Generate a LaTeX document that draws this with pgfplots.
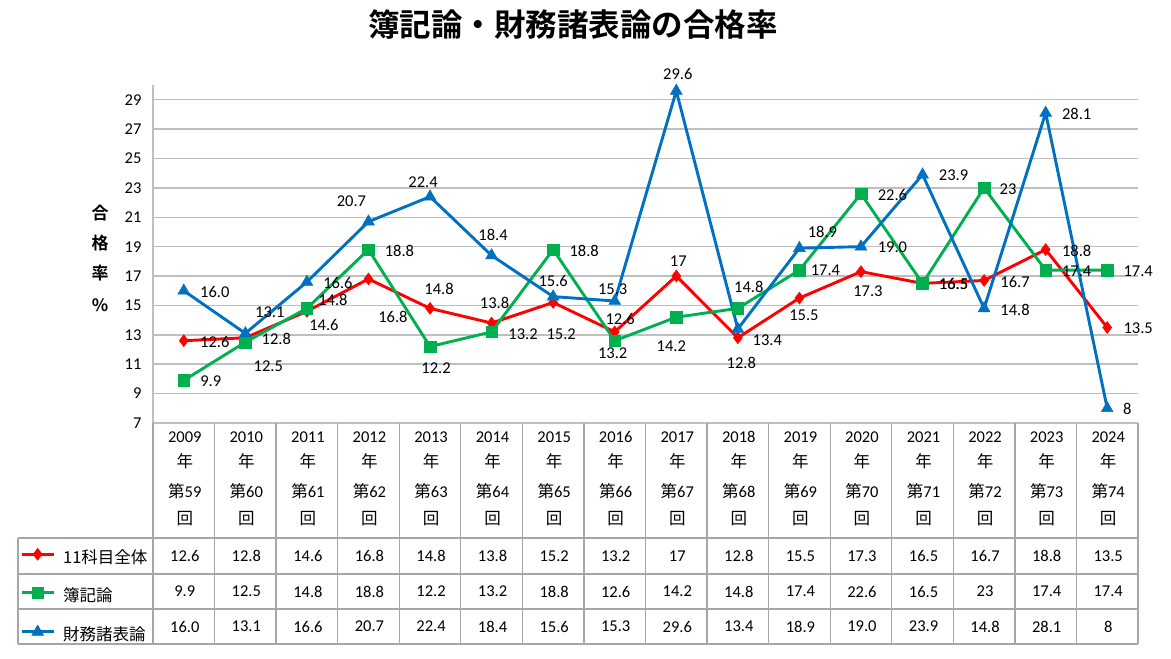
\documentclass[border=0pt]{standalone}
\usepackage{pgfplots}
\pgfplotsset{compat=1.18}
\usepackage{pgfplotstable}
\usepackage{fontspec}
\setmainfont{Carlito}
\newfontfamily\jp{Noto Sans CJK JP}
\newfontfamily\jpb{Noto Sans CJK JP Bold}
\definecolor{cred}{HTML}{FF0000}
\definecolor{cgreen}{HTML}{00B050}
\definecolor{cblue}{HTML}{0070C0}
\definecolor{gridgray}{HTML}{BFBFBF}
\definecolor{tabgray}{HTML}{A6A6A6}

% 11科目全体
\pgfplotstableread{
x y dx dy
0 12.6 31 -1.5
1 12.8 31 -1
2 14.6 17 -13.5
3 16.8 24.5 -37.5
4 14.8 9 19
5 13.8 3 20.5
6 15.2 8 -31.5
7 13.2 -2 -21
8 17 2 14.5
9 12.8 3.5 -25.5
10 15.5 4.5 -17
11 17.3 7 -20
12 16.5 31 -1
13 16.7 31 -1.5
14 18.8 31 -1
15 13.5 31 -1
}\tabA
% 簿記論
\pgfplotstableread{
x y dx dy
0 9.9 27 -1
1 12.5 23 -24
2 14.8 26 8
3 18.8 31 -1
4 12.2 6 -21.5
5 13.2 31.5 -2
6 18.8 31 -1
7 12.6 5.5 21.5
8 14.2 -5 -29
9 14.8 11 21
10 17.4 26 0
11 22.6 31.5 -1
12 16.5 31 -1
13 23 24 -1
14 17.4 31 -1.5
15 17.4 31 -1
}\tabB
% 財務諸表論
\pgfplotstableread{
x y dx dy
0 16.0 31 -1
1 13.1 24.5 21
2 16.6 31 -1
3 20.7 -17 20
4 22.4 -7 14
5 18.4 1.5 20.5
6 15.6 0 16
7 15.3 -2 12
8 29.6 1.5 17
9 13.4 29.5 -11.5
10 18.9 23 16
11 19.0 31.5 -1
12 23.9 31 -1
13 14.8 31 -1.5
14 28.1 31 -1
15 8 20 -1
}\tabC

\pgfplotsset{
  lab/.style={
    nodes near coords,
    point meta=explicit symbolic,
    visualization depends on={\thisrow{dx}\as\dx},
    visualization depends on={\thisrow{dy}\as\dy},
    every node near coord/.append style={anchor=center, inner sep=0pt,
      xshift=\dx*1pt, yshift=\dy*1pt, text=black,
      font=\fontsize{16.5}{18}\selectfont},
  }
}

\begin{document}
\begin{tikzpicture}
\path[use as bounding box] (0,0) rectangle (1171pt,659pt);
\begin{axis}[
  at={(153pt,236pt)}, anchor=south west,
  scale only axis, width=985pt, height=338pt,
  xmin=-0.5, xmax=15.5, ymin=7, ymax=30,
  ytick={7,9,...,29}, xtick=\empty,
  ymajorgrids, grid style={draw=gridgray, line width=1.5pt},
  axis x line=none, axis y line*=left,
  y axis line style={draw=gridgray, line width=1.5pt, -},
  major tick length=0pt,
  /pgf/number format/assume math mode=true,
  yticklabel style={font=\fontsize{16.5}{18}\selectfont, xshift=-8pt},
  clip=false,
  legend style={at={(-0.135,-0.370)}, anchor=north west, draw=none, fill=none,
    inner sep=0pt, row sep=19.5pt, /tikz/column sep=8pt,
    nodes={inner sep=0pt, text height=12pt, text depth=4pt,
      font=\fontsize{16.5}{18}\selectfont\jp}},
  legend cell align=left,
  legend image code/.code={\draw[#1, mark repeat=2, mark phase=2]
     plot coordinates {(0pt,5pt) (16pt,5pt) (32pt,5pt)};},
]
\addplot[color=cred, line width=2.9pt, mark=diamond*, mark size=6pt,
  mark options={solid, line width=0.5pt}, lab]
  table[x=x, y=y, meta=y]{\tabA};
\addplot[color=cgreen, line width=2.9pt, mark=square*, mark size=5.8pt,
  mark options={solid, line width=0.5pt}, lab]
  table[x=x, y=y, meta=y]{\tabB};
\addplot[color=cblue, line width=2.9pt, mark=triangle*, mark size=6.8pt,
  mark options={solid, line width=0.5pt}, lab]
  table[x=x, y=y, meta=y]{\tabC};
\legend{11科目全体, 簿記論, 財務諸表論}
\end{axis}

% title
\node[font=\jpb\fontsize{31.5}{33}\selectfont] at (573pt,634pt) {簿記論・財務諸表論の合格率};
% y label
\node[font=\jpb\fontsize{17}{18}\selectfont] at (100pt,446pt) {合};
\node[font=\jpb\fontsize{17}{18}\selectfont] at (100pt,416pt) {格};
\node[font=\jpb\fontsize{17}{18}\selectfont] at (100pt,386pt) {率};
\node[font=\jpb\fontsize{17}{18}\selectfont] at (100pt,354pt) {\%};

% table grid
\foreach \k in {0,...,16} {
  \pgfmathsetmacro\vx{153+61.5625*\k}
  \draw[tabgray, line width=1.3pt] (\vx pt,236pt) -- (\vx pt,15pt);
}
\foreach \yy in {121,85,50,15} {
  \draw[tabgray, line width=1.3pt] (18pt,\yy pt) -- (1138pt,\yy pt);
}
\draw[tabgray, line width=1.3pt] (18pt,121pt) -- (18pt,15pt);

% table text
\foreach \i in {0,...,15} {
  \pgfmathsetmacro\cx{184.78+61.5625*\i}
  \pgfmathtruncatemacro\yr{2009+\i}
  \pgfmathtruncatemacro\kai{59+\i}
  \node[inner sep=0pt, font=\fontsize{16.5}{18}\selectfont] at (\cx pt,222pt) {\yr};
  \node[inner sep=0pt, font=\fontsize{16.5}{18}\selectfont\jp] at (\cx pt,198pt) {年};
  \node[inner sep=0pt, font=\fontsize{16.5}{18}\selectfont] at (\cx pt,168pt) {{\jp 第}\kai};
  \node[inner sep=0pt, font=\fontsize{16.5}{18}\selectfont\jp] at (\cx pt,140pt) {回};
  \pgfplotstablegetelem{\i}{y}\of\tabA
  \node[inner sep=0pt, font=\fontsize{16.5}{18}\selectfont] at (\cx pt,103pt) {\pgfplotsretval};
  \pgfplotstablegetelem{\i}{y}\of\tabB
  \node[inner sep=0pt, font=\fontsize{16.5}{18}\selectfont] at (\cx pt,67.5pt) {\pgfplotsretval};
  \pgfplotstablegetelem{\i}{y}\of\tabC
  \node[inner sep=0pt, font=\fontsize{16.5}{18}\selectfont] at (\cx pt,32.5pt) {\pgfplotsretval};
}
\end{tikzpicture}
\end{document}
